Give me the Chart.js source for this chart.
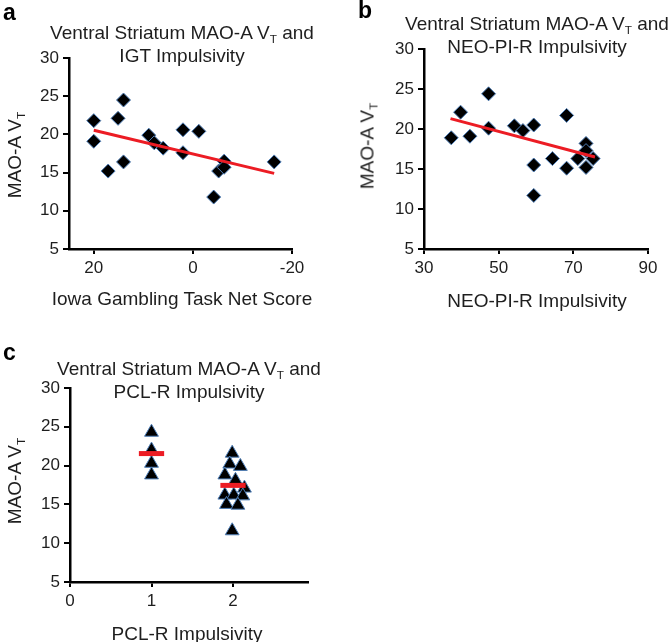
<!DOCTYPE html>
<html>
<head>
<meta charset="utf-8">
<script src="https://cdn.jsdelivr.net/npm/chart.js@4.4.1/dist/chart.umd.min.js"></script>
<style>
  body { margin: 0; background: #fff; }
  #fig { position: relative; width: 672px; height: 642px; background: #fff; overflow: hidden;
         font-family: "Liberation Sans", Arial, sans-serif; color: #1e1e1e; }
  #fig canvas { position: absolute; }
  .lbl { position: absolute; font-size: 19px; line-height: 23px; white-space: nowrap; text-align: center; transform: translateX(-50%); }
  .letter { position: absolute; font-size: 23px; font-weight: bold; line-height: 22px; color: #000; }
  .ytitle { position: absolute; font-size: 19px; line-height: 19px; white-space: nowrap; transform: translate(-50%, -50%) rotate(-90deg); }
  .sub { font-size: 0.62em; position: relative; top: 0.35em; line-height: 0; }
</style>
</head>
<body>
<div id="fig">
  <canvas id="chartA" width="336" height="320" style="left:0;top:0"></canvas>
  <canvas id="chartB" width="336" height="320" style="left:336px;top:0"></canvas>
  <canvas id="chartC" width="336" height="322" style="left:0;top:320px"></canvas>

  <div class="letter" style="left:3px;top:1px">a</div>
  <div class="lbl" style="left:182px;top:21px">Ventral Striatum MAO-A V<span class="sub">T</span> and<br>IGT Impulsivity</div>
  <div class="ytitle" style="left:14px;top:155px">MAO-A V<span class="sub">T</span></div>
  <div class="lbl" style="left:182px;top:287px">Iowa Gambling Task Net Score</div>

  <div class="letter" style="left:358px;top:-1px">b</div>
  <div class="lbl" style="left:537px;top:12px">Ventral Striatum MAO-A V<span class="sub">T</span> and<br>NEO-PI-R Impulsivity</div>
  <div class="ytitle" style="left:367px;top:146px">MAO-A V<span class="sub">T</span></div>
  <div class="lbl" style="left:537px;top:289px">NEO-PI-R Impulsivity</div>

  <div class="letter" style="left:3px;top:341px">c</div>
  <div class="lbl" style="left:189px;top:357px">Ventral Striatum MAO-A V<span class="sub">T</span> and<br>PCL-R Impulsivity</div>
  <div class="ytitle" style="left:14px;top:481px">MAO-A V<span class="sub">T</span></div>
  <div class="lbl" style="left:187px;top:622px">PCL-R Impulsivity</div>
</div>

<script>
// a: IGT net score vs ventral striatum MAO-A VT
const igtScore = [20, 20, 17.1, 15.1, 14.0, 14.0, 8.9, 7.8, 6.0, 2.0, 2.0, -1.2, -4.2, -5.2, -6.3, -6.3, -16.4];
const igtVt    = [21.8, 19.1, 15.2, 22.1, 24.5, 16.4, 19.9, 18.9, 18.2, 20.6, 17.6, 20.4, 11.8, 15.2, 16.5, 15.7, 16.4];
const igtFitX  = [20, -16.4];
const igtFitVt = [20.55, 14.9];
const igtTicks = [20, 0, -20];

// b: NEO-PI-R impulsivity vs MAO-A VT
const neoScore = [37.3, 39.8, 42.3, 47.3, 47.3, 54.2, 56.5, 59.4, 59.4, 59.4, 64.4, 68.2, 68.2, 71.2, 73.4, 73.4, 73.4, 75.3];
const neoVt    = [18.9, 22.1, 19.1, 24.4, 20.1, 20.4, 19.8, 20.5, 15.5, 11.7, 16.3, 21.7, 15.1, 16.3, 18.2, 17.3, 15.2, 16.3];
const neoFitX  = [37.1, 75.8];
const neoFitVt = [21.3, 16.5];

// c: PCL-R impulsivity groups (x jittered as plotted)
const pclGroup1X  = [1, 1, 1, 1];
const pclGroup1Vt = [24.3, 22.0, 20.3, 18.8];
const pclGroup2X  = [1.99, 1.96, 2.09, 1.90, 2.03, 2.14, 1.90, 2.01, 2.12, 1.92, 2.06, 1.99];
const pclGroup2Vt = [21.6, 20.2, 19.9, 18.8, 18.1, 17.1, 16.2, 16.2, 16.1, 15.0, 14.9, 11.6];
const pclGroups   = [1, 2];
const pclMeans    = [21.55, 17.45];
const pclTicks    = [0, 1, 2];

const RED = "#ec1c24";
const EDGE = "#4f7fb8";
const TEXT = "#1e1e1e";
const tickFont = { family: "'Liberation Sans', Arial, sans-serif", size: 17 };

function pts(xs, ys) {
    return xs.map((x, i) => ({ x: x, y: ys[i] }));
}

function axis(min, max, size, horizontal, extra) {
    const a = {
        type: "linear",
        min: min,
        max: max,
        border: { color: "#000", width: 2.5 },
        grid: { drawOnChartArea: false, color: "#000", lineWidth: 2, tickLength: horizontal ? 5 : 6 },
        ticks: { font: tickFont, color: TEXT, padding: horizontal ? 4 : 4, maxRotation: 0 },
        afterFit: function (s) {
            if (horizontal) s.height = size; else s.width = size;
        },
    };
    return Object.assign(a, extra || {});
}

function baseOptions(padding, xAxis, yAxis) {
    return {
        responsive: false,
        animation: false,
        layout: { padding: padding },
        plugins: { legend: { display: false }, tooltip: { enabled: false } },
        scales: { x: xAxis, y: yAxis },
    };
}

document.addEventListener("DOMContentLoaded", function () {
    const fixedTicks = (vals) => (s) => { s.ticks = vals.map((v) => ({ value: v })); };

    // panel a
    const xA = axis(-20, 25, 71, true, { reverse: true, afterBuildTicks: fixedTicks(igtTicks) });
    const yA = axis(5, 30, 69, false);
    yA.ticks.stepSize = 5;
    new Chart(document.getElementById("chartA"), {
        type: "scatter",
        data: {
            datasets: [
                { type: "line", data: pts(igtFitX, igtFitVt), borderColor: RED, borderWidth: 3, pointRadius: 0, order: 0 },
                { data: pts(igtScore, igtVt), pointStyle: "rectRot", pointRadius: 7, backgroundColor: "#000", borderColor: EDGE, borderWidth: 1, order: 1 },
            ],
        },
        options: baseOptions({ top: 58, right: 44, bottom: 0, left: 0 }, xA, yA),
    });

    // panel b
    const xB = axis(30, 90, 71, true);
    xB.ticks.stepSize = 20;
    const yB = axis(5, 30, 88, false);
    yB.ticks.stepSize = 5;
    new Chart(document.getElementById("chartB"), {
        type: "scatter",
        data: {
            datasets: [
                { type: "line", data: pts(neoFitX, neoFitVt), borderColor: RED, borderWidth: 3, pointRadius: 0, order: 0 },
                { data: pts(neoScore, neoVt), pointStyle: "rectRot", pointRadius: 7, backgroundColor: "#000", borderColor: EDGE, borderWidth: 1, order: 1 },
            ],
        },
        options: baseOptions({ top: 49, right: 24, bottom: 0, left: 0 }, xB, yB),
    });

    // panel c
    const xC = axis(0, 2.92, 60, true, { afterBuildTicks: fixedTicks(pclTicks) });
    const yC = axis(5, 30, 70, false);
    yC.ticks.stepSize = 5;
    const meanSets = pclGroups.map((g, i) => ({
        type: "line",
        data: pts([g - 0.155, g + 0.155], [pclMeans[i], pclMeans[i]]),
        borderColor: RED, borderWidth: 5, pointRadius: 0, order: 0,
    }));
    new Chart(document.getElementById("chartC"), {
        type: "scatter",
        data: {
            datasets: meanSets.concat([
                { data: pts(pclGroup1X, pclGroup1Vt), pointStyle: "triangle", pointRadius: 8, backgroundColor: "#000", borderColor: EDGE, borderWidth: 1, order: 1 },
                { data: pts(pclGroup2X, pclGroup2Vt), pointStyle: "triangle", pointRadius: 8, backgroundColor: "#000", borderColor: EDGE, borderWidth: 1, order: 1 },
            ]),
        },
        options: baseOptions({ top: 68, right: 28, bottom: 0, left: 0 }, xC, yC),
    });
});
</script>
</body>
</html>
